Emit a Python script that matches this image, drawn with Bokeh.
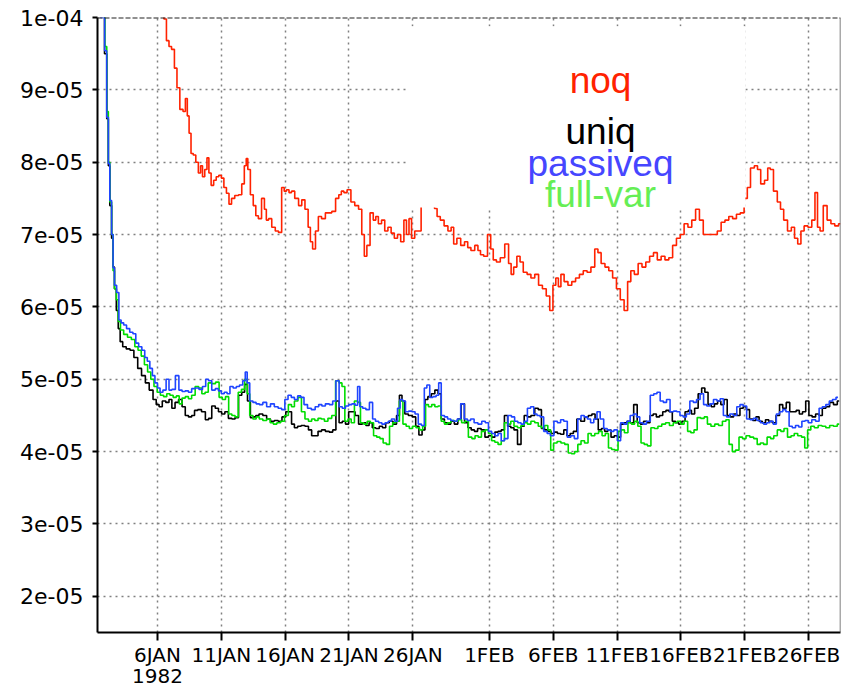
from bokeh.plotting import figure
from bokeh.models import Range1d, FixedTicker, Span, BoxAnnotation, Label, ColumnDataSource, LinearAxis
from bokeh.embed import file_html
from bokeh.resources import INLINE

# time: days since 1 JAN 1982 00Z ; values in units of 1e-05
tick_days = [5, 10, 15, 20, 25, 31, 36, 41, 46, 51, 56]
tick_labels = ["6JAN", "11JAN", "16JAN", "21JAN", "26JAN", "1FEB", "6FEB", "11FEB", "16FEB", "21FEB", "26FEB"]
year_tick = [5]
year_label = ["1982"]
y_ticks = [2, 3, 4, 5, 6, 7, 8, 9, 10]
y_labels = ["2e-05", "3e-05", "4e-05", "5e-05", "6e-05", "7e-05", "8e-05", "9e-05", "1e-04"]

noq_day = [0.25, 2.0, 4.0, 5.4, 5.6, 5.8, 6.0, 6.2, 6.45, 6.6, 6.9, 7.1, 7.27, 7.4, 7.55, 7.7, 7.9, 8.1, 8.3, 8.45,
           8.6, 8.8, 8.95, 9.1, 9.3, 9.5, 9.7, 9.9, 10.1, 10.3, 10.5, 10.7, 10.9, 11.2, 11.5, 11.7, 11.9, 12.0, 12.15, 12.4,
           12.6, 12.8, 13.0, 13.3, 13.45, 13.6, 13.8, 14.1, 14.35, 14.6, 14.85, 15.0, 15.2, 15.4, 15.6, 15.9, 16.2, 16.4, 16.7, 16.9,
           17.05, 17.25, 17.5, 17.7, 18.0, 18.3, 18.5, 18.8, 19.1, 19.3, 19.5, 19.7, 20.0, 20.3, 20.6, 20.9, 21.1, 21.3, 21.5, 21.8,
           22.0, 22.2, 22.4, 22.7, 22.9, 23.2, 23.4, 23.7, 23.9, 24.2, 24.4, 24.6, 24.8, 25.0, 25.3, 25.5, 25.8, 26.2, 26.6, 26.8,
           27.0, 27.3, 27.6, 27.9, 28.1, 28.3, 28.6, 28.9, 29.2, 29.4, 29.7, 30.0, 30.2, 30.4, 30.7, 31.0, 31.2, 31.4, 31.7, 32.0,
           32.4, 32.6, 32.8, 33.0, 33.3, 33.5, 33.8, 34.1, 34.4, 34.7, 35.0, 35.3, 35.6, 35.85, 36.1, 36.3, 36.5, 36.7, 37.0, 37.3,
           37.6, 37.9, 38.2, 38.5, 38.8, 39.1, 39.4, 39.6, 39.9, 40.2, 40.5, 40.8, 41.1, 41.4, 41.7, 41.95, 42.2, 42.5, 42.8, 43.1,
           43.4, 43.7, 44.0, 44.3, 44.6, 44.9, 45.2, 45.5, 45.8, 46.1, 46.4, 46.7, 47.0, 47.3, 47.6, 47.9, 48.3, 48.7, 49.0, 49.3,
           49.6, 49.9, 50.2, 50.5, 50.8, 51.1, 51.3, 51.6, 51.9, 52.1, 52.4, 52.7, 52.9, 53.1, 53.4, 53.7, 53.9, 54.2, 54.5, 54.8,
           55.0, 55.3, 55.5, 55.8, 56.1, 56.4, 56.6, 56.8, 57.0, 57.3, 57.6, 57.9, 58.2, 58.5]
noq_val = [20.0, 14.0, 11.0, 10.2, 9.98, 9.68, 9.6, 9.56, 9.3, 9.03, 8.73, 8.7, 8.88, 8.64, 8.4, 8.12, 8.1, 8.0, 7.85, 7.95,
           7.8, 7.9, 8.06, 7.85, 7.68, 7.75, 7.8, 7.82, 7.78, 7.65, 7.57, 7.42, 7.5, 7.54, 7.55, 7.7, 7.95, 8.05, 7.9, 7.55,
           7.4, 7.26, 7.22, 7.5, 7.35, 7.2, 7.22, 7.1, 7.05, 7.03, 7.65, 7.6, 7.62, 7.58, 7.6, 7.5, 7.4, 7.48, 7.35, 7.1,
           6.9, 6.8, 7.05, 7.25, 7.22, 7.3, 7.3, 7.32, 7.5, 7.55, 7.6, 7.58, 7.62, 7.45, 7.4, 7.35, 7.0, 6.7, 6.85, 7.3,
           7.2, 7.25, 7.15, 7.2, 7.05, 7.1, 7.02, 6.95, 7.0, 6.9, 7.2, 7.0, 7.22, 6.95, 7.05, 7.05, 7.6, 7.7, 7.5, 7.36,
           7.25, 7.2, 7.12, 7.05, 7.1, 6.87, 6.95, 6.85, 6.9, 6.82, 6.78, 6.85, 6.78, 6.72, 6.7, 7.0, 6.8, 6.65, 6.62, 6.68,
           6.87, 6.6, 6.45, 6.55, 6.7, 6.62, 6.48, 6.45, 6.4, 6.45, 6.3, 6.25, 6.15, 5.95, 6.3, 6.4, 6.28, 6.45, 6.35, 6.3,
           6.35, 6.4, 6.45, 6.5, 6.48, 6.55, 6.8, 6.75, 6.6, 6.55, 6.5, 6.4, 6.25, 6.1, 5.95, 6.35, 6.5, 6.45, 6.6, 6.55,
           6.62, 6.7, 6.75, 6.65, 6.7, 6.65, 6.68, 6.85, 6.95, 7.0, 7.15, 7.1, 7.2, 7.35, 7.2, 7.0, 7.0, 7.0, 7.05, 7.17,
           7.2, 7.25, 7.22, 7.28, 7.3, 7.5, 7.65, 7.92, 7.95, 7.9, 7.7, 7.75, 7.92, 7.9, 7.6, 7.45, 7.35, 7.2, 7.05, 7.1,
           6.95, 6.87, 7.05, 7.12, 7.1, 7.2, 7.58, 7.1, 7.05, 7.4, 7.2, 7.15, 7.12, 7.15]

uniq_day = [0.3, 0.75, 0.95, 1.1, 1.2, 1.33, 1.48, 1.56, 1.7, 1.85, 2.0, 2.15, 2.4, 2.7, 3.0, 3.3, 3.6, 3.9, 4.2, 4.5,
            4.8, 5.0, 5.25, 5.5, 5.8, 6.0, 6.25, 6.5, 6.8, 7.05, 7.3, 7.55, 7.8, 8.0, 8.3, 8.6, 8.9, 9.1, 9.4, 9.65,
            9.9, 10.15, 10.4, 10.7, 10.95, 11.2, 11.5, 11.7, 11.95, 12.15, 12.4, 12.6, 12.8, 13.1, 13.4, 13.7, 14.0, 14.3, 14.6, 14.9,
            15.2, 15.4, 15.6, 15.85, 16.1, 16.4, 16.7, 16.95, 17.2, 17.45, 17.7, 18.0, 18.3, 18.6, 18.85, 19.1, 19.35, 19.6, 19.85, 20.1,
            20.35, 20.6, 20.9, 21.2, 21.45, 21.7, 21.95, 22.25, 22.5, 22.75, 23.0, 23.3, 23.6, 23.85, 24.05, 24.25, 24.5, 24.8, 25.1, 25.35,
            25.6, 25.85, 26.05, 26.3, 26.6, 26.85, 27.1, 27.35, 27.6, 27.85, 28.1, 28.4, 28.65, 28.9, 29.2, 29.45, 29.7, 29.95, 30.2, 30.5,
            30.8, 31.05, 31.3, 31.55, 31.8, 32.05, 32.3, 32.55, 32.8, 33.05, 33.35, 33.6, 33.85, 34.1, 34.4, 34.7, 34.95, 35.2, 35.45, 35.7,
            35.95, 36.2, 36.45, 36.7, 36.95, 37.2, 37.45, 37.7, 38.0, 38.3, 38.6, 38.9, 39.15, 39.4, 39.65, 39.9, 40.15, 40.4, 40.65, 40.9,
            41.15, 41.4, 41.65, 41.9, 42.15, 42.45, 42.7, 42.95, 43.2, 43.45, 43.7, 43.95, 44.2, 44.45, 44.7, 44.95, 45.2, 45.45, 45.7, 45.95,
            46.2, 46.45, 46.7, 46.95, 47.2, 47.5, 47.75, 48.0, 48.25, 48.5, 48.75, 49.0, 49.25, 49.5, 49.75, 50.0, 50.25, 50.5, 50.75, 51.0,
            51.25, 51.5, 51.75, 52.0, 52.25, 52.5, 52.75, 53.0, 53.3, 53.6, 53.85, 54.1, 54.4, 54.65, 54.9, 55.15, 55.4, 55.65, 55.9, 56.15,
            56.4, 56.7, 56.95, 57.2, 57.5, 57.8, 58.1, 58.4]
uniq_val = [16.0, 10.2, 9.5, 8.6, 7.95, 7.4, 6.95, 6.55, 6.25, 5.95, 5.7, 5.52, 5.45, 5.42, 5.4, 5.3, 5.15, 5.05, 4.95, 4.85,
            4.72, 4.65, 4.62, 4.7, 4.68, 4.72, 4.6, 4.68, 4.72, 4.62, 4.5, 4.48, 4.5, 4.57, 4.58, 4.55, 4.44, 4.46, 4.63, 4.6,
            4.55, 4.52, 4.55, 4.46, 4.45, 4.47, 4.78, 4.82, 4.93, 4.7, 4.47, 4.48, 4.5, 4.52, 4.5, 4.45, 4.42, 4.43, 4.42, 4.48,
            4.55, 4.55, 4.38, 4.33, 4.35, 4.36, 4.35, 4.3, 4.22, 4.22, 4.28, 4.3, 4.28, 4.27, 4.3, 4.7, 4.4, 4.42, 4.38, 4.55,
            4.55, 4.5, 4.38, 4.4, 4.36, 4.4, 4.33, 4.32, 4.35, 4.33, 4.4, 4.42, 4.38, 4.5, 4.78, 4.7, 4.52, 4.5, 4.48, 4.35,
            4.23, 4.3, 4.72, 4.76, 4.8, 4.85, 4.8, 4.45, 4.4, 4.38, 4.42, 4.38, 4.45, 4.66, 4.4, 4.33, 4.3, 4.28, 4.32, 4.3,
            4.2, 4.22, 4.2, 4.27, 4.28, 4.3, 4.5, 4.35, 4.33, 4.3, 4.1, 4.35, 4.5, 4.48, 4.5, 4.6, 4.58, 4.32, 4.3, 4.28,
            4.25, 4.27, 4.25, 4.24, 4.3, 4.22, 4.25, 4.28, 4.45, 4.42, 4.48, 4.5, 4.52, 4.45, 4.3, 4.32, 4.28, 4.3, 4.2, 4.22,
            4.2, 4.38, 4.4, 4.42, 4.4, 4.65, 4.4, 4.38, 4.42, 4.4, 4.5, 4.52, 4.48, 4.5, 4.55, 4.57, 4.55, 4.42, 4.4, 4.38,
            4.42, 4.55, 4.57, 4.52, 4.6, 4.8, 4.88, 4.82, 4.65, 4.62, 4.66, 4.7, 4.65, 4.72, 4.5, 4.48, 4.52, 4.5, 4.6, 4.62,
            4.58, 4.45, 4.43, 4.48, 4.42, 4.4, 4.44, 4.42, 4.4, 4.5, 4.65, 4.6, 4.68, 4.55, 4.55, 4.57, 4.52, 4.55, 4.7, 4.5,
            4.48, 4.52, 4.5, 4.6, 4.62, 4.68, 4.65, 4.7]

passiveq_day = [0.3, 0.78, 0.94, 1.1, 1.2, 1.33, 1.48, 1.56, 1.7, 1.9, 2.05, 2.25, 2.45, 2.7, 2.95, 3.2, 3.4, 3.65, 3.9, 4.1,
                4.3, 4.5, 4.7, 4.9, 5.1, 5.3, 5.55, 5.8, 6.0, 6.25, 6.55, 6.8, 7.05, 7.3, 7.55, 7.8, 8.1, 8.4, 8.65, 8.9,
                9.1, 9.4, 9.65, 9.9, 10.1, 10.35, 10.55, 10.8, 11.05, 11.3, 11.55, 11.8, 11.95, 12.1, 12.35, 12.6, 12.85, 13.1, 13.4, 13.7,
                14.0, 14.3, 14.6, 14.85, 15.1, 15.35, 15.6, 15.85, 16.1, 16.35, 16.6, 16.9, 17.2, 17.5, 17.75, 18.0, 18.3, 18.6, 18.85, 19.1,
                19.35, 19.6, 19.85, 20.1, 20.35, 20.6, 20.75, 20.95, 21.2, 21.45, 21.75, 21.95, 22.2, 22.45, 22.7, 22.95, 23.2, 23.45, 23.7, 23.9,
                24.1, 24.3, 24.55, 24.8, 25.05, 25.3, 25.55, 25.8, 26.0, 26.2, 26.45, 26.7, 26.95, 27.1, 27.35, 27.6, 27.85, 28.1, 28.35, 28.6,
                28.9, 29.15, 29.4, 29.65, 29.95, 30.25, 30.55, 30.8, 31.05, 31.3, 31.55, 31.8, 32.05, 32.3, 32.6, 32.85, 33.1, 33.35, 33.6, 33.85,
                34.1, 34.35, 34.6, 34.85, 35.1, 35.4, 35.65, 35.9, 36.2, 36.45, 36.7, 36.95, 37.25, 37.5, 37.8, 38.05, 38.3, 38.55, 38.8, 39.05,
                39.3, 39.55, 39.8, 40.1, 40.35, 40.6, 40.9, 41.15, 41.4, 41.65, 41.9, 42.15, 42.4, 42.65, 42.9, 43.15, 43.45, 43.75, 44.0, 44.25,
                44.5, 44.75, 45.0, 45.3, 45.55, 45.8, 46.05, 46.3, 46.55, 46.85, 47.1, 47.35, 47.65, 47.9, 48.15, 48.4, 48.7, 48.95, 49.2, 49.45,
                49.7, 49.95, 50.25, 50.5, 50.75, 51.0, 51.3, 51.55, 51.8, 52.1, 52.35, 52.6, 52.85, 53.1, 53.35, 53.6, 53.85, 54.1, 54.35, 54.6,
                54.85, 55.1, 55.35, 55.6, 55.85, 56.1, 56.4, 56.7, 56.95, 57.2, 57.5, 57.75, 58.0, 58.3]
passiveq_val = [16.0, 10.0, 9.54, 8.62, 7.98, 7.47, 7.0, 6.54, 6.3, 6.2, 5.82, 5.78, 5.75, 5.7, 5.65, 5.63, 5.5, 5.45, 5.4, 5.3,
                5.25, 5.15, 5.05, 4.95, 4.88, 4.82, 4.85, 5.0, 4.85, 4.86, 5.05, 4.85, 4.83, 4.84, 4.82, 4.87, 4.88, 4.86, 4.9, 5.0,
                4.98, 4.85, 4.87, 4.84, 4.8, 4.82, 4.8, 4.9, 4.88, 4.9, 4.92, 4.98, 5.1, 4.95, 4.7, 4.68, 4.66, 4.65, 4.68, 4.62,
                4.66, 4.62, 4.6, 4.58, 4.72, 4.78, 4.75, 4.72, 4.77, 4.75, 4.65, 4.6, 4.58, 4.62, 4.65, 4.63, 4.66, 4.65, 4.7, 4.98,
                4.62, 4.6, 4.63, 4.65, 4.66, 4.64, 4.9, 4.62, 4.6, 4.58, 4.68, 4.45, 4.42, 4.4, 4.38, 4.4, 4.42, 4.45, 4.42, 4.6,
                4.72, 4.7, 4.55, 4.56, 4.55, 4.52, 4.38, 4.36, 4.88, 4.92, 4.75, 4.76, 4.78, 4.95, 4.5, 4.48, 4.45, 4.43, 4.42, 4.45,
                4.66, 4.45, 4.43, 4.45, 4.4, 4.38, 4.42, 4.4, 4.28, 4.25, 4.22, 4.25, 4.15, 4.18, 4.5, 4.48, 4.42, 4.4, 4.38, 4.42,
                4.6, 4.62, 4.52, 4.5, 4.48, 4.28, 4.25, 4.22, 4.42, 4.4, 4.44, 4.42, 4.2, 4.22, 4.18, 4.45, 4.5, 4.48, 4.45, 4.4,
                4.45, 4.55, 4.45, 4.32, 4.3, 4.28, 4.3, 4.15, 4.4, 4.38, 4.42, 4.5, 4.52, 4.48, 4.4, 4.38, 4.42, 4.78, 4.8, 4.82,
                4.7, 4.68, 4.72, 4.55, 4.56, 4.55, 4.5, 4.48, 4.52, 4.7, 4.68, 4.72, 4.8, 4.65, 4.63, 4.66, 4.72, 4.7, 4.73, 4.5,
                4.48, 4.52, 4.5, 4.62, 4.65, 4.63, 4.45, 4.44, 4.46, 4.43, 4.4, 4.38, 4.4, 4.42, 4.38, 4.52, 4.55, 4.58, 4.55, 4.35,
                4.33, 4.36, 4.34, 4.42, 4.43, 4.4, 4.44, 4.42, 4.6, 4.62, 4.65, 4.7, 4.72, 4.75]

fullvar_day = [0.3, 0.8, 0.95, 1.1, 1.2, 1.33, 1.48, 1.56, 1.7, 1.85, 2.0, 2.2, 2.5, 2.8, 3.1, 3.35, 3.6, 3.85, 4.1, 4.35,
               4.6, 4.85, 5.1, 5.35, 5.6, 5.85, 6.1, 6.35, 6.6, 6.8, 7.05, 7.3, 7.55, 7.8, 8.1, 8.35, 8.6, 8.85, 9.1, 9.4,
               9.7, 9.95, 10.2, 10.45, 10.7, 10.95, 11.2, 11.45, 11.7, 11.95, 12.1, 12.35, 12.6, 12.85, 13.1, 13.4, 13.7, 13.95, 14.2, 14.5,
               14.8, 15.1, 15.4, 15.6, 15.85, 16.15, 16.4, 16.7, 16.95, 17.2, 17.45, 17.7, 17.95, 18.2, 18.5, 18.8, 19.1, 19.35, 19.55, 19.8,
               20.05, 20.3, 20.55, 20.8, 21.0, 21.3, 21.55, 21.8, 22.05, 22.3, 22.55, 22.8, 23.05, 23.3, 23.55, 23.8, 24.1, 24.35, 24.6, 24.85,
               25.1, 25.4, 25.65, 25.9, 26.1, 26.35, 26.6, 26.85, 27.1, 27.35, 27.6, 27.85, 28.1, 28.4, 28.7, 28.95, 29.2, 29.5, 29.75, 30.0,
               30.25, 30.5, 30.8, 31.05, 31.3, 31.55, 31.8, 32.05, 32.3, 32.55, 32.8, 33.05, 33.35, 33.6, 33.85, 34.1, 34.4, 34.7, 34.95, 35.2,
               35.45, 35.7, 35.9, 36.15, 36.45, 36.75, 37.05, 37.3, 37.55, 37.8, 38.05, 38.3, 38.6, 38.85, 39.1, 39.4, 39.7, 39.95, 40.2, 40.45,
               40.7, 40.95, 41.2, 41.45, 41.7, 42.0, 42.25, 42.5, 42.75, 43.0, 43.25, 43.5, 43.8, 44.05, 44.35, 44.65, 44.95, 45.25, 45.55, 45.85,
               46.1, 46.4, 46.65, 46.9, 47.15, 47.4, 47.7, 47.95, 48.2, 48.5, 48.8, 49.1, 49.4, 49.65, 49.9, 50.15, 50.4, 50.7, 50.95, 51.25,
               51.55, 51.85, 52.1, 52.35, 52.6, 52.9, 53.15, 53.4, 53.7, 53.95, 54.2, 54.5, 54.75, 55.0, 55.3, 55.6, 55.8, 56.05, 56.3, 56.6,
               56.9, 57.2, 57.5, 57.8, 58.1, 58.4]
fullvar_val = [16.0, 10.1, 9.6, 8.7, 8.0, 7.45, 7.0, 6.5, 6.25, 6.1, 5.8, 5.68, 5.62, 5.58, 5.55, 5.45, 5.4, 5.32, 5.2, 5.1,
               5.0, 4.9, 4.82, 4.78, 4.76, 4.8, 4.78, 4.75, 4.77, 4.66, 4.74, 4.76, 4.73, 4.78, 4.9, 4.88, 4.8, 4.82, 4.95, 4.94,
               4.96, 4.75, 4.72, 4.76, 4.52, 4.5, 4.48, 4.82, 4.86, 5.0, 4.8, 4.5, 4.45, 4.48, 4.45, 4.43, 4.45, 4.4, 4.38, 4.4,
               4.42, 4.5, 4.65, 4.62, 4.7, 4.75, 4.55, 4.45, 4.42, 4.45, 4.43, 4.46, 4.45, 4.42, 4.46, 4.5, 4.98, 4.95, 4.9, 4.42,
               4.45, 4.4, 4.7, 4.68, 4.4, 4.38, 4.42, 4.4, 4.22, 4.2, 4.18, 4.12, 4.1, 4.35, 4.4, 4.42, 4.7, 4.38, 4.35, 4.32,
               4.35, 4.33, 4.3, 4.35, 4.65, 4.62, 4.65, 4.62, 4.63, 4.42, 4.38, 4.4, 4.43, 4.42, 4.44, 4.4, 4.42, 4.2, 4.18, 4.22,
               4.2, 4.28, 4.3, 4.25, 4.15, 4.13, 4.1, 4.15, 4.4, 4.38, 4.42, 4.35, 4.33, 4.36, 4.4, 4.38, 4.42, 4.4, 4.35, 4.33,
               4.36, 4.3, 4.02, 4.12, 4.14, 4.12, 4.1, 3.98, 3.97, 4.0, 4.1, 4.15, 4.12, 4.25, 4.22, 4.25, 4.28, 4.22, 4.25, 4.05,
               4.03, 4.02, 4.28, 4.3, 4.26, 4.4, 4.38, 4.42, 4.35, 4.12, 4.1, 4.08, 4.33, 4.32, 4.35, 4.38, 4.4, 4.36, 4.4, 4.42,
               4.38, 4.42, 4.28, 4.26, 4.3, 4.47, 4.46, 4.48, 4.38, 4.35, 4.38, 4.36, 4.42, 4.44, 4.1, 4.0, 4.02, 4.2, 4.18, 4.22,
               4.2, 4.18, 4.1, 4.12, 4.1, 4.2, 4.18, 4.22, 4.3, 4.28, 4.32, 4.2, 4.22, 4.25, 4.22, 4.2, 4.05, 4.3, 4.35, 4.33,
               4.36, 4.35, 4.33, 4.36, 4.35, 4.38]

RED = "#ff2200"
BLUE = "#1f45ff"
GREEN = "#00dd00"
FONT = "DejaVu Sans"

p = figure(width=841, height=688, output_backend="svg", toolbar_location=None,
           x_range=Range1d(0.3, 58.5), y_range=Range1d(1.5, 10.0),
           min_border_left=97, min_border_right=1, min_border_top=17, min_border_bottom=56)
p.outline_line_color = None
p.background_fill_color = "white"

# axes
p.xaxis.ticker = FixedTicker(ticks=tick_days)
p.xaxis.major_label_overrides = {d: l for d, l in zip(tick_days, tick_labels)}
p.yaxis.ticker = FixedTicker(ticks=y_ticks)
p.yaxis.major_label_overrides = {t: l for t, l in zip(y_ticks, y_labels)}
for ax in (p.xaxis[0], p.yaxis[0]):
    ax.axis_line_width = 2
    ax.axis_line_color = "black"
    ax.major_tick_line_width = 2
    ax.major_tick_line_color = "black"
    ax.minor_tick_line_color = None
    ax.major_tick_in = 0
    ax.major_label_text_font = FONT
    ax.major_label_text_color = "black"
p.xaxis.major_label_text_font_size = "20px"
p.yaxis.major_label_text_font_size = "22px"
p.xaxis.major_tick_out = 8
p.xaxis.major_label_standoff = 2
p.yaxis.major_tick_out = 5
p.yaxis.major_label_standoff = 9

# second row of the date axis: the year under the first date
year_axis = LinearAxis(ticker=FixedTicker(ticks=year_tick),
                       major_label_overrides={d: l for d, l in zip(year_tick, year_label)})
year_axis.axis_line_color = None
year_axis.major_tick_line_color = None
year_axis.minor_tick_line_color = None
year_axis.major_tick_out = 0
year_axis.major_tick_in = 0
year_axis.major_label_standoff = -1
year_axis.major_label_text_font = FONT
year_axis.major_label_text_font_size = "20px"
year_axis.major_label_text_color = "black"
p.add_layout(year_axis, "below")

# grid
p.xgrid.ticker = FixedTicker(ticks=tick_days)
p.ygrid.ticker = FixedTicker(ticks=y_ticks[:-1])
for g in (p.xgrid[0], p.ygrid[0]):
    g.grid_line_color = "#808080"
    g.grid_line_dash = "2 4"
    g.grid_line_width = 1.5

# series
lw = 1.6
p.step(uniq_day, uniq_val, mode="center", line_color="black", line_width=lw)
p.step(fullvar_day, fullvar_val, mode="center", line_color=GREEN, line_width=lw)
p.step(passiveq_day, passiveq_val, mode="center", line_color=BLUE, line_width=lw)
p.step(noq_day, noq_val, mode="center", line_color=RED, line_width=lw)

# frame edges
p.add_layout(Span(location=10.0, dimension="width", line_color="#222222", line_dash="5 2", line_width=2))
p.add_layout(Span(location=58.5, dimension="height", line_color="#555555", line_width=1.5))

# legend panel (opaque white)
p.add_layout(BoxAnnotation(left=24.58, right=51.05, bottom=7.374, top=9.88,
                           fill_color="white", fill_alpha=1.0, line_color=None, level="overlay"))
leg_x0, leg_x1 = 27.32, 32.41
leg_names = ["noq", "uniq", "passiveq", "full-var"]
leg_line_colors = [RED, "black", BLUE, GREEN]
leg_text_colors = [RED, "black", "#4646ff", "#66ee55"]
leg_line_y = [9.222, 8.553, 8.106, 7.668]
leg_text_y = [9.13, 8.43, 7.985, 7.56]
src = ColumnDataSource(dict(x0=[leg_x0] * 4, x1=[leg_x1] * 4, y=leg_line_y, c=leg_line_colors))
seg = p.segment(x0="x0", y0="y", x1="x1", y1="y", line_color="c", line_width=3, source=src)
seg.level = "overlay"
for name, col, ty in zip(leg_names, leg_text_colors, leg_text_y):
    p.add_layout(Label(x=39.7, y=ty, text=name, text_color=col, text_align="center",
                       text_baseline="alphabetic", text_font="Liberation Sans",
                       text_font_size="37px", level="overlay"))

open("out.html", "w").write(file_html(p, INLINE))
